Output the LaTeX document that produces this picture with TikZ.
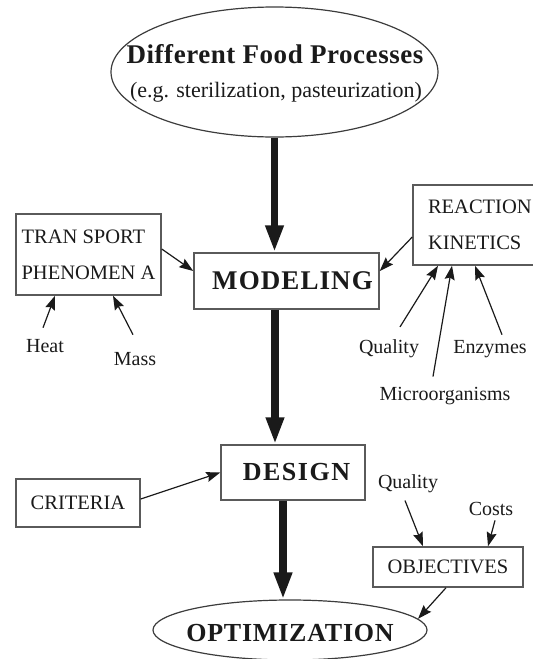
\documentclass[tikz,border=0pt]{standalone}
\usepackage{fontspec}
\setmainfont{Liberation Serif}
\usetikzlibrary{shapes.geometric,arrows.meta}
\definecolor{ink}{HTML}{1A1A1A}
\definecolor{edge}{HTML}{5A5A5A}

\tikzset{
  boxnode/.style={draw=edge, line width=1.5pt, fill=white, inner sep=0pt,
    text=ink, font=\fontsize{20.5}{36}\selectfont},
  oval/.style={ellipse, draw=ink!85, line width=1.2pt, inner sep=0pt},
  headtext/.style={inner sep=0pt, text=ink},
  tagtext/.style={inner sep=0pt, anchor=base, text=ink,
    font=\fontsize{20}{24}\selectfont},
  feed/.style={draw=ink, line width=1.2pt,
    -{Stealth[length=14pt,width=10pt,inset=2pt]}},
  mainflow/.style={draw=ink, line width=7.5pt,
    -{Triangle[length=27pt,width=17pt]}},
}

\begin{document}
\begin{tikzpicture}[x=1pt,y=-1pt]
\useasboundingbox (0,0) rectangle (533,659);

% process oval at the top
\node[oval, minimum width=327pt, minimum height=130pt] (top) at (274.5,72) {};
\node[headtext, anchor=base] (toptitle) at (275,63)
  {\fontsize{27}{30}\selectfont\bfseries\addfontfeatures{LetterSpace=2}Different Food Processes};
\node[headtext, anchor=base] (topnote) at (276,97)
  {\fontsize{22}{26}\selectfont(e.g. sterilization, pasteurization)};

% central boxes
\node[boxnode, minimum width=185pt, minimum height=56pt] (modeling) at (286.5,281)
  {\hspace*{12pt}\fontsize{27}{30}\selectfont\bfseries\addfontfeatures{LetterSpace=4}MODELING};
\node[boxnode, minimum width=144pt, minimum height=55pt] (design) at (293,472.5)
  {\hspace*{7pt}\fontsize{26}{30}\selectfont\bfseries\addfontfeatures{LetterSpace=6}DESIGN};

% optimization oval at the bottom
\node[oval, minimum width=274pt, minimum height=60pt] (optim) at (290,630) {};
\node[headtext] (optimtxt) at (290,633)
  {\fontsize{26}{30}\selectfont\bfseries\addfontfeatures{LetterSpace=3}OPTIMIZATION};

% side boxes
\node[boxnode, minimum width=145pt, minimum height=81pt, align=left] (transport) at (88.5,254.5)
  {TRAN SPORT\\PHENOMEN A};
\node[boxnode, minimum height=80pt, align=left, text width=117pt, inner xsep=15pt] (reaction) at (486.5,225)
  {REACTION\\KINETICS};
\node[boxnode, minimum width=124pt, minimum height=48pt] (criteria) at (78,503) {CRITERIA};
\node[boxnode, minimum width=150pt, minimum height=40pt] (objectives) at (448,567) {OBJECTIVES};

% small labels
\node[tagtext] (heat) at (45,352) {Heat};
\node[tagtext] (mass) at (135,365) {Mass};
\node[tagtext] (qualk) at (389,353) {Quality};
\node[tagtext] (enz) at (490,353) {Enzymes};
\node[tagtext] (micro) at (445,400) {Microorganisms};
\node[tagtext] (qualo) at (408,488) {Quality};
\node[tagtext] (costs) at (491,515) {Costs};

% main flow
\draw[mainflow] (top.south) -- ([xshift=-12pt]modeling.north);
\draw[mainflow] ([xshift=-11.5pt]modeling.south) -- ([xshift=-18pt]design.north);
\draw[mainflow] ([xshift=-10pt]design.south) -- ([xshift=-7pt]optim.north);

% inputs to the boxes
\draw[feed] ([yshift=5.5pt]transport.east) -- ([yshift=10pt]modeling.west);
\draw[feed] ([yshift=-12pt]reaction.west) -- ([yshift=10pt]modeling.east);
\draw[feed] ([yshift=4pt]criteria.east) -- (design.west);
\draw[feed] ([xshift=-2pt]objectives.south) -- (optim.5.6);

\draw[feed] ([shift={(-2pt,11pt)}]heat.north) -- ([xshift=-33.5pt]transport.south);
\draw[feed] ([shift={(-2pt,17pt)}]mass.north) -- ([xshift=24.5pt]transport.south);
\draw[feed] ([shift={(11pt,12pt)}]qualk.north) -- ([xshift=-48.5pt]reaction.south);
\draw[feed] ([shift={(-12pt,10pt)}]micro.north) -- ([xshift=-34.5pt]reaction.south);
\draw[feed] ([shift={(12pt,5pt)}]enz.north) -- ([xshift=-11.5pt]reaction.south);
\draw[feed] ([shift={(-3pt,-8pt)}]qualo.south) -- ([xshift=-25pt]objectives.north);
\draw[feed] ([shift={(4pt,-5pt)}]costs.south) -- ([xshift=40pt]objectives.north);
\end{tikzpicture}
\end{document}
